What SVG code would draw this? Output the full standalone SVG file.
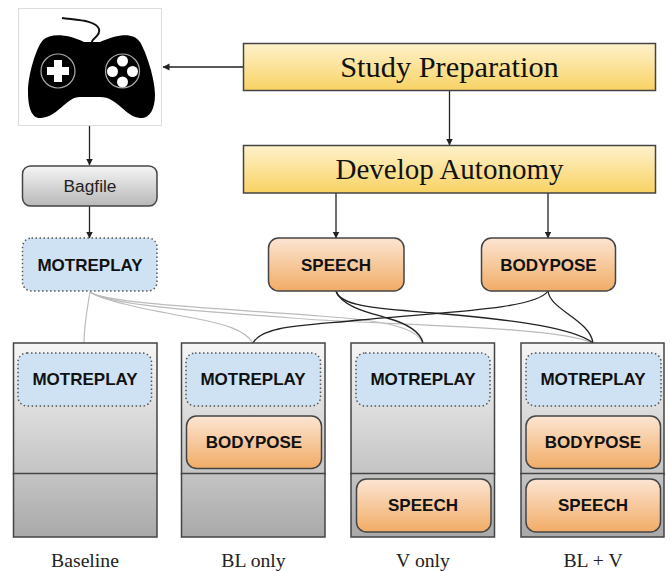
<svg xmlns="http://www.w3.org/2000/svg" width="671" height="571" viewBox="0 0 671 571">
<style>
text{text-anchor:middle}
.b{font:bold 17px "Liberation Sans",Arial,sans-serif;fill:#111}
.s{font:19.7px "Liberation Serif","Times New Roman",serif;fill:#222}
.t{font:30px "Liberation Serif","Times New Roman",serif;fill:#111}
.y{fill:url(#gy);stroke:#444;stroke-width:1.5}
.o{fill:url(#go);stroke:#444;stroke-width:1.5}
.m{fill:#cfe2f3;stroke:#555;stroke-width:1.5;stroke-dasharray:1.5 2.5}
.c{fill:url(#gc);stroke:#444;stroke-width:1.5}
.d{fill:url(#gd);stroke:#444;stroke-width:1.5}
.a{fill:none;stroke:#222;stroke-width:1.3;marker-end:url(#ar)}
.k{fill:none;stroke:#222;stroke-width:1.3}
.g{fill:none;stroke:#bbb;stroke-width:1.2}
</style>
<defs>
<linearGradient id="gy" x1="0" y1="0" x2="0" y2="1"><stop offset="0" stop-color="#fff2cc"/><stop offset="1" stop-color="#f8d263"/></linearGradient>
<linearGradient id="go" x1="0" y1="0" x2="0" y2="1"><stop offset="0" stop-color="#fce5d3"/><stop offset="1" stop-color="#f1ac66"/></linearGradient>
<linearGradient id="gc" x1="0" y1="0" x2="0" y2="1"><stop offset="0" stop-color="#f6f6f6"/><stop offset="1" stop-color="#c4c4c4"/></linearGradient>
<linearGradient id="gd" x1="0" y1="0" x2="0" y2="1"><stop offset="0" stop-color="#c4c4c4"/><stop offset="1" stop-color="#a9a9a9"/></linearGradient>
<linearGradient id="gb" x1="0" y1="0" x2="0" y2="1"><stop offset="0" stop-color="#f5f5f5"/><stop offset="1" stop-color="#b8b8b8"/></linearGradient>
<marker id="ar" markerWidth="8" markerHeight="8" refX="6.500" refY="3.500" orient="auto" markerUnits="userSpaceOnUse"><path d="M0 0L7 3.500L0 7Z" fill="#222"/></marker>
</defs>
<g id="connectors">
<path class="a" d="M243 67H163"/>
<path class="a" d="M449.500 91V145"/>
<path class="a" d="M336 193V238"/>
<path class="a" d="M548 193V238"/>
<path class="a" d="M89.500 126V165"/>
<path class="a" d="M89.500 206V238"/>
<path class="g" d="M90 292C87 310 84 325 84 343"/>
<path class="g" d="M90 292C105 302 160 312 193 318C225 324 245 330 253 343"/>
<path class="g" d="M90 292C105 303 210 308 320 316C375 320 415 325 423 343"/>
<path class="g" d="M90 292C110 306 210 312 320 320C430 326 560 328 593 343"/>
<path class="k" d="M548 291C535 310 440 312 360 320C300 326 262 326 253 343"/>
<path class="k" d="M336 291C342 308 375 314 387 318C405 323 420 330 423 343"/>
<path class="k" d="M336 291C340 308 390 309 433 313C490 318 570 325 593 343"/>
<path class="k" d="M548 291C550 310 590 320 593 343"/>
</g>
<g id="controller">
<rect x="18.500" y="8.500" width="143" height="117" fill="#fff" stroke="#ddd"/>
<path d="M62 18C75 20 96 20 99 29C101 36 92 38 92 42" fill="none" stroke="#111" stroke-width="2"/>
<path d="M43 40C50 34 65 33 84 42H100C118 34 133 32 140 42C146 52 155 78 155 95C155 110 149 119 140 118C125 117 118 97 100 97H80C66 97 58 117 41 118C32 119 28 108 28 92C28 75 36 48 43 40Z" fill="#000"/>
<circle cx="58" cy="71" r="17" fill="none" stroke="#aaa" stroke-width="1.200"/>
<path d="M54 60H62V67H69V75H62V82H54V75H47V67H54Z" fill="#fff"/>
<circle cx="122.500" cy="71" r="17" fill="none" stroke="#aaa" stroke-width="1.200"/>
<circle cx="122.500" cy="61" r="5.500" fill="#fff"/><circle cx="122.500" cy="82" r="5.500" fill="#fff"/><circle cx="112.500" cy="71.500" r="5.500" fill="#fff"/><circle cx="132.500" cy="71.500" r="5.500" fill="#fff"/>
</g>
<g id="study"><rect class="y" x="243.500" y="43.500" width="412" height="47"/><text class="t" x="449.500" y="77" font-size="30.400" style="font-size:30.400px">Study Preparation</text></g>
<g id="develop"><rect class="y" x="243.500" y="145.500" width="412" height="47.500"/><text class="t" x="449.500" y="179" style="font-size:29px">Develop Autonomy</text></g>
<g id="bagfile"><rect x="22.500" y="166" width="134.500" height="40" rx="8" fill="url(#gb)" stroke="#444" stroke-width="1.500"/><text x="90" y="192" font-family="Liberation Sans,Arial,sans-serif" font-size="17.300" fill="#222">Bagfile</text></g>
<g id="motreplay"><rect class="m" x="22.500" y="238" width="134.500" height="53" rx="9"/><text class="b" x="90" y="271">MOTREPLAY</text></g>
<g id="speech"><rect class="o" x="268.500" y="238" width="135.500" height="53" rx="10"/><text class="b" x="336" y="271">SPEECH</text></g>
<g id="bodypose"><rect class="o" x="481.500" y="238" width="134" height="53" rx="10"/><text class="b" x="548.500" y="271">BODYPOSE</text></g>
<g id="baseline"><rect class="c" x="13.500" y="343" width="143.500" height="131"/><rect class="d" x="13.500" y="473.500" width="143.500" height="63.500"/><rect class="m" x="18" y="353" width="133.500" height="53" rx="9"/><text class="b" x="85" y="385">MOTREPLAY</text><text class="s" x="85" y="567">Baseline</text></g>
<g id="blonly"><rect class="c" x="181.500" y="343" width="143.500" height="131"/><rect class="d" x="181.500" y="473.500" width="143.500" height="63.500"/><rect class="m" x="186" y="353" width="134.500" height="53" rx="9"/><text class="b" x="253" y="385">MOTREPLAY</text><rect class="o" x="186.500" y="416" width="135" height="52.500" rx="10"/><text class="b" x="254" y="448">BODYPOSE</text><text class="s" x="253.500" y="567">BL only</text></g>
<g id="vonly"><rect class="c" x="351" y="343" width="143.500" height="131"/><rect class="d" x="351" y="473.500" width="143.500" height="63.500"/><rect class="m" x="356" y="353" width="134" height="53" rx="9"/><text class="b" x="423" y="385">MOTREPLAY</text><rect class="o" x="356.500" y="479" width="134.500" height="53" rx="10"/><text class="b" x="423" y="511">SPEECH</text><text class="s" x="423" y="567">V only</text></g>
<g id="blv"><rect class="c" x="521" y="343" width="143" height="131"/><rect class="d" x="521" y="473.500" width="143" height="63.500"/><rect class="m" x="526" y="353" width="135" height="53" rx="9"/><text class="b" x="593" y="385">MOTREPLAY</text><rect class="o" x="526" y="416" width="134.500" height="52.500" rx="10"/><text class="b" x="593" y="448">BODYPOSE</text><rect class="o" x="526" y="479" width="134.500" height="53" rx="10"/><text class="b" x="593" y="511">SPEECH</text><text class="s" x="593" y="567">BL + V</text></g>
</svg>
